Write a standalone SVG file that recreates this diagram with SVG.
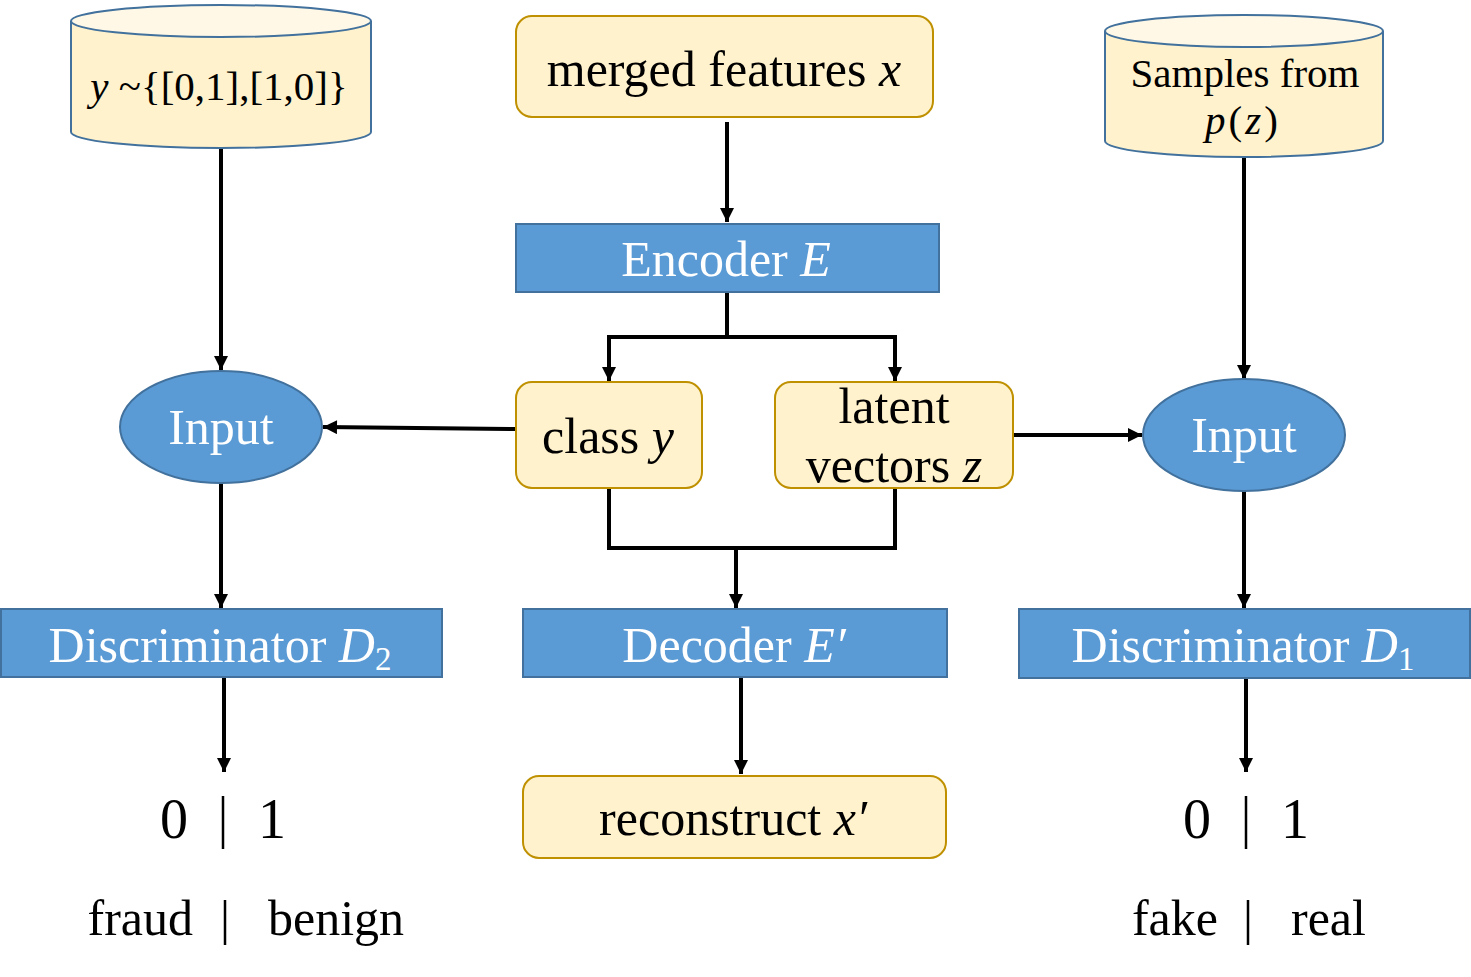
<svg xmlns="http://www.w3.org/2000/svg" width="1471" height="977" viewBox="0 0 1471 977">
<defs>
<marker id="ah" viewBox="0 0 10 10" refX="10" refY="5" markerWidth="15" markerHeight="14" markerUnits="userSpaceOnUse" orient="auto">
<path d="M0,0 L10,5 L0,10 Z" fill="#000"/>
</marker>
</defs>
<style>
text{font-family:"Liberation Serif","Times New Roman",serif;fill:#000}
.w{fill:#fff}
.m{font-style:italic}
.yb{fill:#fff2cc;stroke:#bf9000;stroke-width:2}
.bb{fill:#5b9bd5;stroke:#41719c;stroke-width:2}
.cy{fill:#fff2cc;stroke:#41719c;stroke-width:2}
.ct{fill:#fff8e6;stroke:#41719c;stroke-width:2}
.c{fill:none;stroke:#000;stroke-width:4}
.a{marker-end:url(#ah)}
.t48{font-size:50px}
.t40{font-size:41px}
.t56{font-size:56px}
.sep{stroke:#000;stroke-width:2.5}
</style>
<g id="connectors">
<line class="c a" x1="221" y1="148" x2="221" y2="370"/>
<line class="c a" x1="1244" y1="158" x2="1244" y2="379"/>
<line class="c a" x1="727" y1="122" x2="727" y2="222"/>
<polyline class="c" points="727,292 727,337 609,337 609,368"/>
<line class="c a" x1="609" y1="337" x2="609" y2="381"/>
<polyline class="c" points="727,337 895,337 895,368"/>
<line class="c a" x1="895" y1="337" x2="895" y2="381"/>
<line class="c a" x1="516" y1="429" x2="323" y2="427"/>
<line class="c a" x1="1013" y1="435" x2="1142" y2="435"/>
<polyline class="c" points="609,488 609,548 895,548 895,488"/>
<line class="c a" x1="736" y1="548" x2="736" y2="608"/>
<line class="c a" x1="221" y1="483" x2="221" y2="608"/>
<line class="c a" x1="1244" y1="491" x2="1244" y2="608"/>
<line class="c a" x1="224" y1="677" x2="224" y2="772"/>
<line class="c a" x1="741" y1="677" x2="741" y2="774"/>
<line class="c a" x1="1246" y1="678" x2="1246" y2="772"/>
</g>
<g id="cyl-y">
<path class="cy" d="M71,21 L71,132 A150,16 0 0 0 371,132 L371,21"/>
<ellipse class="ct" cx="221" cy="21" rx="150" ry="16"/>
<text class="t40" x="219" y="100" text-anchor="middle"><tspan class="m">y</tspan> ~{[0,1],[1,0]}</text>
</g>
<g id="cyl-pz">
<path class="cy" d="M1105,31 L1105,141 A139,16 0 0 0 1383,141 L1383,31"/>
<ellipse class="ct" cx="1244" cy="31" rx="139" ry="16"/>
<text class="t40" x="1245" y="87" text-anchor="middle">Samples from</text>
<text class="t40" x="1243" y="134" text-anchor="middle" letter-spacing="3"><tspan class="m">p</tspan>(<tspan class="m">z</tspan>)</text>
</g>
<g id="merged">
<rect class="yb" x="516" y="16" width="417" height="101" rx="16"/>
<text class="t48" x="724" y="86" text-anchor="middle">merged features <tspan class="m">x</tspan></text>
</g>
<g id="encoder">
<rect class="bb" x="516" y="224" width="423" height="68"/>
<text class="t48 w" x="726" y="276" text-anchor="middle">Encoder <tspan class="m">E</tspan></text>
</g>
<g id="classy">
<rect class="yb" x="516" y="382" width="186" height="106" rx="16"/>
<text class="t48" x="608" y="453" text-anchor="middle">class <tspan class="m">y</tspan></text>
</g>
<g id="latent">
<rect class="yb" x="775" y="382" width="238" height="106" rx="16"/>
<text class="t48" x="894" y="423" text-anchor="middle">latent</text>
<text class="t48" x="894" y="482" text-anchor="middle">vectors <tspan class="m">z</tspan></text>
</g>
<g id="input-left">
<ellipse class="bb" cx="221" cy="427" rx="101" ry="56"/>
<text class="t48 w" x="221" y="444" text-anchor="middle">Input</text>
</g>
<g id="input-right">
<ellipse class="bb" cx="1244" cy="435" rx="101" ry="56"/>
<text class="t48 w" x="1244" y="452" text-anchor="middle">Input</text>
</g>
<g id="disc2">
<rect class="bb" x="1" y="609" width="441" height="68"/>
<text class="t48 w" x="220" y="662" text-anchor="middle">Discriminator <tspan class="m">D</tspan><tspan font-size="33" dy="8">2</tspan></text>
</g>
<g id="decoder">
<rect class="bb" x="523" y="609" width="424" height="68"/>
<text class="t48 w" x="734" y="662" text-anchor="middle">Decoder <tspan class="m">E′</tspan></text>
</g>
<g id="disc1">
<rect class="bb" x="1019" y="609" width="451" height="69"/>
<text class="t48 w" x="1243" y="662" text-anchor="middle">Discriminator <tspan class="m">D</tspan><tspan font-size="33" dy="8">1</tspan></text>
</g>
<g id="reconstruct">
<rect class="yb" x="523" y="776" width="423" height="82" rx="16"/>
<text class="t48" x="733" y="835" text-anchor="middle">reconstruct <tspan class="m">x′</tspan></text>
</g>
<g id="out-left">
<text class="t56" x="174" y="838" text-anchor="middle">0</text>
<line class="sep" x1="223" y1="796" x2="223" y2="849"/>
<text class="t56" x="272" y="838" text-anchor="middle">1</text>
<text class="t48" x="193" y="935" text-anchor="end">fraud</text>
<line class="sep" x1="225" y1="900" x2="225" y2="945"/>
<text class="t48" x="268" y="935">benign</text>
</g>
<g id="out-right">
<text class="t56" x="1197" y="838" text-anchor="middle">0</text>
<line class="sep" x1="1246" y1="796" x2="1246" y2="849"/>
<text class="t56" x="1295" y="838" text-anchor="middle">1</text>
<text class="t48" x="1218" y="935" text-anchor="end">fake</text>
<line class="sep" x1="1248" y1="900" x2="1248" y2="945"/>
<text class="t48" x="1291" y="935">real</text>
</g>
</svg>
